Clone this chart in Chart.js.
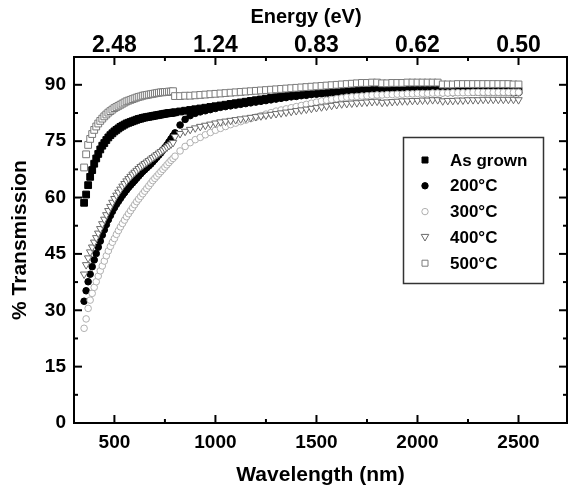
<!DOCTYPE html>
<html>
<head>
<meta charset="utf-8">
<title>% Transmission vs Wavelength</title>
<script src="https://cdn.jsdelivr.net/npm/chart.js@4.4.1/dist/chart.umd.min.js"></script>
<style>
  body { margin: 0; background: #fff; }
  canvas { display: block; }
</style>
</head>
<body>
<canvas id="transmissionChart" width="568" height="493"></canvas>
<script>
// values (nm, % transmission)
const wavelengths = [
    350, 360, 370, 380, 390, 400, 410, 420, 430, 440,
    450, 460, 470, 480, 490, 500, 510, 520, 530, 540,
    550, 560, 570, 580, 590, 600, 610, 620, 630, 640,
    650, 660, 670, 680, 690, 700, 710, 720, 730, 740,
    750, 760, 770, 780, 790, 800, 825, 850, 875, 900,
    925, 950, 975, 1000, 1025, 1050, 1075, 1100, 1125, 1150,
    1175, 1200, 1225, 1250, 1275, 1300, 1325, 1350, 1375, 1400,
    1425, 1450, 1475, 1500, 1525, 1550, 1575, 1600, 1625, 1650,
    1675, 1700, 1725, 1750, 1775, 1800, 1825, 1850, 1875, 1900,
    1925, 1950, 1975, 2000, 2025, 2050, 2075, 2100, 2125, 2150,
    2175, 2200, 2225, 2250, 2275, 2300, 2325, 2350, 2375, 2400,
    2425, 2450, 2475, 2500
];

const asGrown = [
    58.6, 60.8, 63.3, 65.5, 67.3, 69.0, 70.4, 71.6, 72.8, 73.8,
    74.5, 75.3, 76.0, 76.6, 77.1, 77.6, 78.0, 78.4, 78.8, 79.1,
    79.4, 79.7, 79.9, 80.1, 80.3, 80.5, 80.7, 80.9, 81.0, 81.2,
    81.3, 81.4, 81.5, 81.6, 81.7, 81.8, 81.9, 82.0, 82.1, 82.2,
    82.3, 82.4, 82.5, 82.5, 82.6, 82.7, 82.9, 83.1, 83.3, 83.5,
    83.7, 83.9, 84.1, 84.3, 84.5, 84.7, 84.9, 85.1, 85.3, 85.5,
    85.7, 85.9, 86.1, 86.3, 86.5, 86.7, 86.9, 87.1, 87.3, 87.5,
    87.6, 87.8, 87.9, 88.1, 88.2, 88.3, 88.4, 88.5, 88.6, 88.7,
    88.8, 88.8, 88.9, 88.9, 89.0, 89.0, 88.7, 88.7, 88.7, 88.8,
    88.8, 88.8, 88.8, 88.8, 88.8, 88.8, 88.8, 88.8, 88.4, 88.4,
    88.4, 88.5, 88.5, 88.5, 88.5, 88.5, 88.5, 88.5, 88.5, 88.5,
    88.5, 88.5, 88.4, 88.4
];

const t200 = [
    32.4, 35.2, 37.6, 39.6, 41.6, 43.4, 45.1, 46.8, 48.4, 50.0,
    51.4, 52.8, 54.1, 55.2, 56.3, 57.3, 58.2, 59.0, 59.8, 60.6,
    61.3, 62.0, 62.7, 63.3, 63.9, 64.5, 65.1, 65.7, 66.3, 66.9,
    67.4, 67.9, 68.4, 68.9, 69.5, 70.1, 70.7, 71.3, 71.9, 72.6,
    73.3, 74.0, 74.8, 75.6, 76.4, 77.2, 79.3, 80.8, 81.8, 82.4,
    82.8, 83.1, 83.4, 83.7, 84.0, 84.2, 84.4, 84.6, 84.8, 85.0,
    85.2, 85.4, 85.6, 85.8, 86.0, 86.2, 86.4, 86.6, 86.8, 86.9,
    87.1, 87.2, 87.4, 87.5, 87.6, 87.7, 87.8, 87.9, 88.0, 88.1,
    88.2, 88.2, 88.3, 88.3, 88.4, 88.4, 88.1, 88.1, 88.1, 88.2,
    88.2, 88.2, 88.2, 88.2, 88.2, 88.2, 88.2, 88.2, 87.9, 87.9,
    87.9, 88.0, 88.0, 88.0, 88.0, 88.0, 88.0, 88.0, 88.0, 88.0,
    88.0, 88.0, 87.9, 87.9
];

const t300 = [
    25.2, 27.7, 30.5, 32.7, 34.5, 36.1, 37.6, 39.1, 40.5, 41.8,
    43.1, 44.5, 45.8, 47.0, 48.1, 49.1, 50.2, 51.2, 52.2, 53.1,
    54.0, 54.9, 55.7, 56.5, 57.3, 58.1, 58.9, 59.6, 60.3, 61.0,
    61.7, 62.4, 63.1, 63.8, 64.5, 65.1, 65.7, 66.3, 66.9, 67.5,
    68.1, 68.7, 69.3, 69.9, 70.4, 71.0, 72.4, 73.6, 74.6, 75.4,
    76.0, 76.7, 77.3, 77.9, 78.4, 78.9, 79.4, 79.8, 80.2, 80.6,
    81.0, 81.4, 81.8, 82.2, 82.6, 83.0, 83.3, 83.6, 83.9, 84.2,
    84.5, 84.8, 85.1, 85.4, 85.7, 85.9, 86.1, 86.3, 86.5, 86.7,
    86.8, 86.9, 87.0, 87.1, 87.2, 87.3, 87.3, 87.4, 87.4, 87.5,
    87.5, 87.6, 87.6, 87.7, 87.7, 87.7, 87.8, 87.8, 87.8, 87.8,
    87.9, 87.9, 87.9, 87.9, 88.0, 88.0, 88.0, 88.0, 88.0, 88.0,
    88.0, 88.0, 88.0, 88.0
];

const t400 = [
    39.6, 42.1, 43.9, 45.5, 46.8, 48.1, 49.3, 50.5, 51.7, 53.0,
    54.2, 55.4, 56.5, 57.6, 58.7, 59.7, 60.6, 61.4, 62.2, 63.0,
    63.7, 64.4, 65.0, 65.6, 66.2, 66.7, 67.2, 67.7, 68.2, 68.6,
    69.0, 69.4, 69.8, 70.2, 70.6, 71.0, 71.4, 71.8, 72.2, 72.6,
    73.0, 73.4, 73.8, 74.2, 74.6, 76.2, 77.0, 77.6, 78.1, 78.5,
    78.9, 79.2, 79.5, 79.8, 80.1, 80.3, 80.5, 80.7, 80.9, 81.1,
    81.3, 81.5, 81.7, 81.9, 82.1, 82.3, 82.5, 82.7, 82.9, 83.1,
    83.3, 83.5, 83.7, 83.9, 84.1, 84.3, 84.5, 84.7, 84.9, 85.0,
    85.1, 85.2, 85.3, 85.4, 85.5, 85.6, 85.3, 85.4, 85.5, 85.6,
    85.7, 85.7, 85.8, 85.8, 85.9, 85.9, 86.0, 86.0, 85.7, 85.8,
    85.8, 85.9, 85.9, 86.0, 86.0, 86.0, 86.1, 86.1, 86.1, 86.1,
    86.1, 86.1, 86.1, 86.0
];

const t500 = [
    68.0, 71.5, 74.0, 75.6, 76.9, 78.0, 78.9, 79.7, 80.4, 81.0,
    81.6, 82.1, 82.6, 83.0, 83.4, 83.8, 84.1, 84.4, 84.7, 85.0,
    85.3, 85.6, 85.8, 86.0, 86.2, 86.4, 86.6, 86.8, 86.9, 87.1,
    87.2, 87.3, 87.4, 87.5, 87.6, 87.7, 87.8, 87.9, 88.0, 88.0,
    88.1, 88.1, 88.2, 88.2, 88.3, 87.0, 87.0, 87.1, 87.1, 87.2,
    87.3, 87.4, 87.5, 87.6, 87.7, 87.8, 87.9, 88.0, 88.1, 88.2,
    88.3, 88.4, 88.5, 88.6, 88.7, 88.8, 88.9, 89.0, 89.1, 89.2,
    89.3, 89.4, 89.5, 89.6, 89.7, 89.8, 89.9, 90.0, 90.1, 90.2,
    90.3, 90.4, 90.5, 90.5, 90.6, 90.6, 90.4, 90.4, 90.5, 90.5,
    90.5, 90.6, 90.6, 90.6, 90.6, 90.6, 90.6, 90.6, 90.1, 90.1,
    90.1, 90.2, 90.2, 90.2, 90.2, 90.2, 90.2, 90.2, 90.2, 90.2,
    90.2, 90.2, 90.1, 90.1
];

const seriesLabels = ["As grown", "200\u00B0C", "300\u00B0C", "400\u00B0C", "500\u00B0C"];

const xTicks = [500, 1000, 1500, 2000, 2500];
const xMinorTicks = [750, 1250, 1750, 2250];
const energyLabels = ["2.48", "1.24", "0.83", "0.62", "0.50"];
const yTicks = [0, 15, 30, 45, 60, 75, 90];
const yMinorTicks = [7.5, 22.5, 37.5, 52.5, 67.5, 82.5];

const FONT = "'Liberation Sans', Arial, Helvetica, sans-serif";

const toPoints = (values) => wavelengths.map((w, i) => ({ x: w, y: values[i] }));

const makeDataset = (label, values, style, order) => ({
    label: label,
    data: toPoints(values),
    order: order,
    showLine: false,
    pointStyle: style.shape,
    pointRadius: style.radius,
    pointRotation: style.rotation || 0,
    pointBorderWidth: 1,
    pointBackgroundColor: style.fill,
    pointBorderColor: style.stroke,
    pointHoverRadius: style.radius
});

const datasets = [
    makeDataset(seriesLabels[0], asGrown, { shape: "rect", radius: 4.8, fill: "#000", stroke: "#000" }, 5),
    makeDataset(seriesLabels[1], t200, { shape: "circle", radius: 3.3, fill: "#000", stroke: "#000" }, 4),
    makeDataset(seriesLabels[2], t300, { shape: "circle", radius: 3.3, fill: "#fff", stroke: "#b0b0b0" }, 3),
    makeDataset(seriesLabels[3], t400, { shape: "triangle", radius: 4.3, rotation: 180, fill: "#fff", stroke: "#6a6a6a" }, 2),
    makeDataset(seriesLabels[4], t500, { shape: "rect", radius: 4.8, fill: "#fff", stroke: "#7a7a7a" }, 1)
];

const strokeLine = (ctx, x1, y1, x2, y2) => {
    ctx.beginPath();
    ctx.moveTo(x1, y1);
    ctx.lineTo(x2, y2);
    ctx.stroke();
}

// frame with inward ticks on all four sides
const frameTicks = {
    id: "frameTicks",
    afterDatasetsDraw(chart) {
        const { ctx, chartArea, scales } = chart;
        const { left, right, top, bottom } = chartArea;
        ctx.save();
        ctx.strokeStyle = "#000";
        ctx.lineWidth = 2;
        ctx.strokeRect(left, top, right - left, bottom - top);
        const drawX = (values, len) => {
            values.forEach((v) => {
                const px = scales.x.getPixelForValue(v);
                strokeLine(ctx, px, bottom, px, bottom - len);
                strokeLine(ctx, px, top, px, top + len);
            });
        }
        const drawY = (values, len) => {
            values.forEach((v) => {
                const py = scales.y.getPixelForValue(v);
                strokeLine(ctx, left, py, left + len, py);
                strokeLine(ctx, right, py, right - len, py);
            });
        }
        drawX(xTicks, 8);
        drawX(xMinorTicks, 4);
        drawY(yTicks.slice(1), 8);
        drawY(yMinorTicks, 4);
        ctx.restore();
    }
};

const drawMarker = (ctx, ds, x, y) => {
    ctx.fillStyle = ds.pointBackgroundColor;
    ctx.strokeStyle = ds.pointBorderColor;
    ctx.lineWidth = 1;
    ctx.beginPath();
    if (ds.pointStyle === "rect") {
        ctx.rect(x - 3, y - 3, 6, 6);
    } else if (ds.pointStyle === "circle") {
        ctx.arc(x, y, 3.2, 0, Math.PI * 2);
    } else {
        ctx.moveTo(x - 3.8, y - 3);
        ctx.lineTo(x + 3.8, y - 3);
        ctx.lineTo(x, y + 3.6);
        ctx.closePath();
    }
    ctx.fill();
    ctx.stroke();
}

// boxed legend inside the plot area, plus the top axis title (sits left of centre)
const boxLegend = {
    id: "boxLegend",
    afterDraw(chart) {
        const ctx = chart.ctx;
        ctx.save();
        ctx.fillStyle = "#000";
        ctx.font = "bold 20px " + FONT;
        ctx.textAlign = "center";
        ctx.textBaseline = "middle";
        ctx.fillText("Energy (eV)", 306, 17);

        ctx.fillStyle = "#fff";
        ctx.fillRect(403, 137, 140, 146);
        ctx.strokeStyle = "#333";
        ctx.lineWidth = 1.5;
        ctx.strokeRect(403.5, 137.5, 140, 146);
        ctx.font = "bold 17px " + FONT;
        ctx.textAlign = "left";
        chart.data.datasets.forEach((ds, i) => {
            const y = 160 + i * 25.8;
            drawMarker(ctx, ds, 425, y);
            ctx.fillStyle = "#000";
            ctx.fillText(ds.label, 450, y + 1);
        });
        ctx.restore();
    }
};

const fixBox = (size) => (scale) => {
    if (scale.isHorizontal()) {
        scale.height = size;
    } else {
        scale.width = size;
    }
    scale.paddingLeft = 0;
    scale.paddingRight = 0;
    scale.paddingTop = 0;
    scale.paddingBottom = 0;
}

const tickFont = { family: FONT, size: 19, weight: "bold" };
const titleFont = { family: FONT, size: 21, weight: "bold" };
const noGrid = { display: false, drawTicks: false };

const config = {
    type: "scatter",
    data: { datasets: datasets },
    options: {
        responsive: false,
        devicePixelRatio: 1,
        animation: false,
        events: [],
        layout: { autoPadding: false, padding: { left: 0, right: 1, top: 0, bottom: 0 } },
        plugins: {
            legend: { display: false },
            tooltip: { enabled: false }
        },
        scales: {
            x: {
                type: "linear",
                position: "bottom",
                min: 300,
                max: 2740,
                grid: noGrid,
                border: { display: false },
                afterBuildTicks: (scale) => { scale.ticks = xTicks.map((v) => ({ value: v })); },
                afterFit: fixBox(70),
                ticks: { color: "#000", font: tickFont, padding: 8, maxRotation: 0, callback: (value) => String(value) },
                title: { display: true, text: "Wavelength (nm)", color: "#000", font: titleFont, padding: { top: 0, bottom: 5 } }
            },
            x2: {
                type: "linear",
                position: "top",
                min: 300,
                max: 2740,
                grid: noGrid,
                border: { display: false },
                afterBuildTicks: (scale) => { scale.ticks = xTicks.map((v) => ({ value: v })); },
                afterFit: fixBox(57),
                ticks: {
                    color: "#000",
                    font: { family: FONT, size: 23, weight: "bold" },
                    padding: -2,
                    maxRotation: 0,
                    callback: (value, index) => energyLabels[index]
                }
            },
            y: {
                type: "linear",
                position: "left",
                min: 0,
                max: 97.4,
                grid: noGrid,
                border: { display: false },
                afterBuildTicks: (scale) => { scale.ticks = yTicks.map((v) => ({ value: v })); },
                afterFit: fixBox(74),
                ticks: { color: "#000", font: tickFont, padding: 8 },
                title: { display: true, text: "% Transmission", color: "#000", font: titleFont, padding: { top: 8, bottom: 0 } }
            }
        }
    },
    plugins: [frameTicks, boxLegend]
};

const transmissionChart = new Chart(document.getElementById("transmissionChart"), config);
</script>
</body>
</html>
